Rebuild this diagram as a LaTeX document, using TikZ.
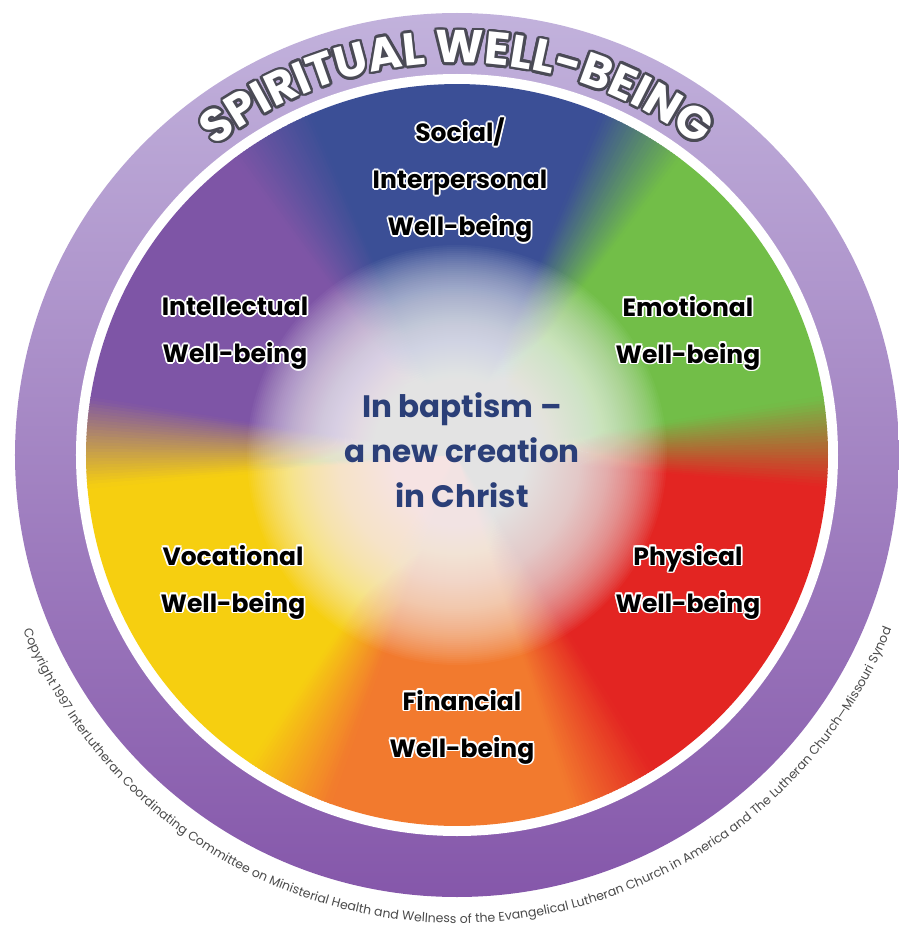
\documentclass[tikz,border=0pt]{standalone}
\usepackage{fontspec}
\setmainfont{Poppins}
\usetikzlibrary{decorations.text}
\definecolor{c0}{HTML}{72BE48}
\definecolor{c1}{HTML}{3B4F96}
\definecolor{c2}{HTML}{7E55A6}
\definecolor{c3}{HTML}{F6CF10}
\definecolor{c4}{HTML}{F27A2E}
\definecolor{c5}{HTML}{E32522}
\definecolor{ringTop}{HTML}{C2B2DC}
\definecolor{ringMid}{HTML}{A88BCB}
\definecolor{ringBot}{HTML}{8557AA}
\definecolor{centerc}{HTML}{2B3F78}
\definecolor{outlc}{HTML}{4A4A55}
\definecolor{copyc}{HTML}{4A4A4A}
\newlength\hw
\setlength\hw{1.8pt}
\newcommand\outl[3]{\leavevmode
 \rlap{\textcolor{#2}{\kern\hw #3}}%
 \rlap{\textcolor{#2}{\kern-\hw #3}}%
 \rlap{\textcolor{#2}{\raisebox{\hw}{#3}}}%
 \rlap{\textcolor{#2}{\raisebox{-\hw}{#3}}}%
 \rlap{\textcolor{#2}{\kern0.7\hw\raisebox{0.7\hw}{#3}}}%
 \rlap{\textcolor{#2}{\kern-0.7\hw\raisebox{0.7\hw}{#3}}}%
 \rlap{\textcolor{#2}{\kern0.7\hw\raisebox{-0.7\hw}{#3}}}%
 \rlap{\textcolor{#2}{\kern-0.7\hw\raisebox{-0.7\hw}{#3}}}%
 \textcolor{#1}{#3}}
\newcommand\lab[1]{\outl{black}{white}{#1}}
\newcommand\titlefont{\fontsize{46}{46}\selectfont\bfseries}
\newcommand\copyfont{\fontsize{12.5}{12.5}\selectfont}
\tikzset{
  labelsty/.style={align=center, inner sep=0pt, font=\fontsize{25}{47}\selectfont\bfseries},
  centersty/.style={align=center, inner sep=0pt, text=centerc, font=\fontsize{31}{45}\selectfont\bfseries},
}
\begin{document}
\begin{tikzpicture}[x=1pt,y=1pt]
\useasboundingbox (-457,-480) rectangle (442,455);
% outer ring
\shade[top color=ringTop, middle color=ringMid, bottom color=ringBot] (0,0) circle (442);
\fill[white] (0,0) circle (381);
% solid sector cores
\def\R{371}
\foreach \k/\a/\b in {0/2/60, 1/60/120, 2/120/178, 3/178/243, 4/243/295, 5/295/362} {
  \pgfmathsetmacro\aa{\a+6.8}
  \pgfmathsetmacro\bb{\b-6.8}
  \fill[c\k] (0,0) -- (\aa:\R) arc[start angle=\aa, end angle=\bb, radius=\R] -- cycle;
}
% blended boundaries
\foreach \k/\b in {0/2, 1/60, 2/120, 3/178, 4/243, 5/295} {
  \pgfmathtruncatemacro\km{mod(\k+5,6)}
  \foreach \j in {0,...,27} {
    \pgfmathsetmacro\aa{\b-7+0.5*\j}
    \pgfmathsetmacro\bb{\aa+0.7}
    \pgfmathtruncatemacro\p{round((0.5*\j+0.25)/14*100)}
    \colorlet{tmpc}{c\k!\p!c\km}
    \fill[tmpc] (0,0) -- (\aa:\R) arc[start angle=\aa, end angle=\bb, radius=\R] -- cycle;
  }
}
% white glow at center
\foreach \r in {2,4,...,210} {
  \fill[white, fill opacity=0.035] (0,0) circle (\r);
}
% labels
\node[labelsty] (social) at (3,275) {\lab{Social/}\\\lab{Interpersonal}\\\lab{Well-being}};
\node[labelsty] (intel) at (-222,122) {\lab{Intellectual}\\\lab{Well-being}};
\node[labelsty] (emo) at (231,122) {\lab{Emotional}\\\lab{Well-being}};
\node[labelsty] (voc) at (-224,-127) {\lab{Vocational}\\\lab{Well-being}};
\node[labelsty] (phys) at (231,-127) {\lab{Physical}\\\lab{Well-being}};
\node[labelsty] (fin) at (5,-272) {\lab{Financial}\\\lab{Well-being}};
\node[centersty] (center) at (5,5) {In baptism –\\a new creation\\in Christ};
% title along arc: outline then fill
\foreach \ang in {0,22.5,...,337.5} {
  \path[shift={(\ang:2.6)}, decorate, decoration={text along path, text={|\titlefont|SPIRITUAL WELL-BEING}, text align=center, text color=outlc}]
    (140:392) arc[start angle=140, end angle=40, radius=392];
}
\path[decorate, decoration={text along path, text={|\titlefont|SPIRITUAL WELL-BEING}, text align=center, text color=white}]
    (140:392) arc[start angle=140, end angle=40, radius=392];
% copyright along bottom arc
\path[decorate, decoration={text along path, text={|\copyfont|Copyright 1997 InterLutheran Coordinating Committee on Ministerial Health and Wellness of the Evangelical Lutheran Church in America and The Lutheran Church—Missouri Synod}, text align=center, text color=copyc}]
    (200:468) arc[start angle=200, end angle=340, radius=468];
\end{tikzpicture}
\end{document}
